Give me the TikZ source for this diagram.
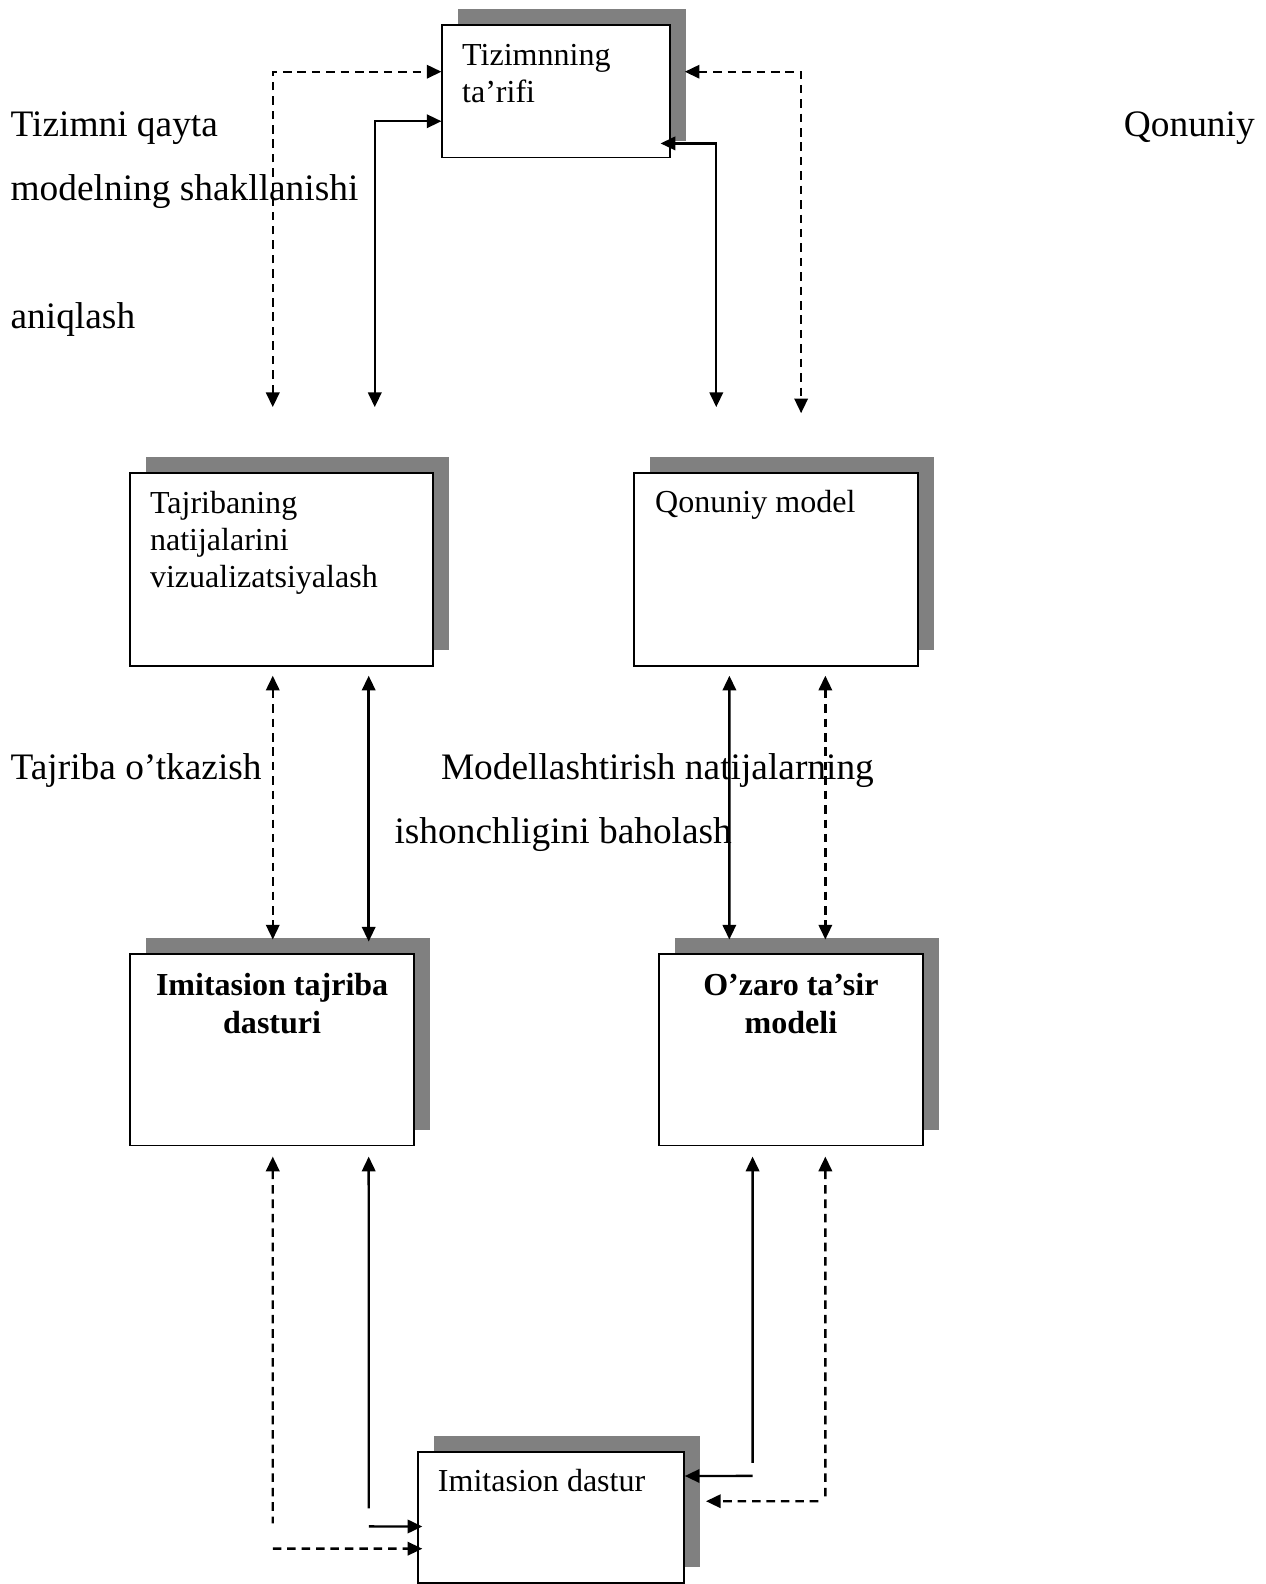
\documentclass[tikz,border=0pt]{standalone}
\usepackage{fontspec}
\setmainfont{Liberation Serif}
\usepackage{tikz}
\usetikzlibrary{arrows.meta,shadows}
\tikzset{
  modbox/.style={draw, fill=white, line width=0.7pt, anchor=north west, inner sep=0pt,
    general shadow={shadow xshift=6pt, shadow yshift=6pt, fill=black!50}},
  modtxt/.style={anchor=base west, align=left, inner sep=0pt, font=\fontsize{12}{14}\selectfont},
  modbold/.style={anchor=base, align=center, inner sep=0pt, font=\fontsize{12}{14}\selectfont\bfseries},
  modlbl/.style={anchor=base west, inner sep=0pt, font=\fontsize{14}{17}\selectfont},
  solidln/.style={line width=0.9pt},
  dashln/.style={line width=0.9pt, dash pattern=on 3.2pt off 2.2pt}
}

\begin{document}
\begin{tikzpicture}[>={Triangle[length=5.5pt,width=5pt]}]
\useasboundingbox (0,0) rectangle (16.665,-20.854);

% boxes
\node[modbox, minimum width=2.993cm, minimum height=1.742cm] (tarif) at (5.812,-0.319) {};
\node[modbox, minimum width=3.99cm, minimum height=2.54cm] (vizual) at (1.702,-6.211) {};
\node[modbox, minimum width=3.737cm, minimum height=2.54cm] (qonun) at (8.339,-6.211) {};
\node[modbox, minimum width=3.737cm, minimum height=2.527cm] (imitexp) at (1.702,-12.542) {};
\node[modbox, minimum width=3.485cm, minimum height=2.527cm] (ozaro) at (8.658,-12.542) {};
\node[modbox, minimum width=3.498cm, minimum height=1.729cm] (imitdast) at (5.493,-19.099) {};

% box texts (base = last line)
\node[modtxt] (tarif-t) at ([shift={(0.266,-1.03)}]tarif.north west) {Tizimnning\\ta’rifi};
\node[modtxt] (vizual-t) at ([shift={(0.266,-1.53)}]vizual.north west) {Tajribaning\\natijalarini\\vizualizatsiyalash};
\node[modtxt] (qonun-t) at ([shift={(0.28,-0.54)}]qonun.north west) {Qonuniy model};
\node[modbold] (imitexp-t) at ([yshift=-1.06cm]imitexp.north) {Imitasion tajriba\\dasturi};
\node[modbold] (ozaro-t) at ([yshift=-1.06cm]ozaro.north) {O’zaro ta’sir\\modeli};
\node[modtxt] (imitdast-t) at ([shift={(0.266,-0.54)}]imitdast.north west) {Imitasion dastur};

% free texts
\node[modlbl] (l1) at (0.133,-1.796) {Tizimni qayta};
\node[modlbl] (l2) at (14.79,-1.796) {Qonuniy};
\node[modlbl] (l3) at (0.133,-2.633) {modelning shakllanishi};
\node[modlbl] (l4) at (0.133,-4.323) {aniqlash};
\node[modlbl] (l5) at (0.133,-10.268) {Tajriba o’tkazish};
\node[modlbl] (l6) at (5.799,-10.268) {Modellashtirish natijalarning};
\node[modlbl] (l7) at (5.187,-11.106) {ishonchligini baholash};

% free ends
\coordinate (aL) at (3.591,-5.360);
\coordinate (aM) at (4.934,-5.360);
\coordinate (aN) at (9.430,-5.360);
\coordinate (aR) at (10.547,-5.440);
\coordinate (bL) at (3.591,-20.056);
\coordinate (bLh) at (3.591,-20.389);
\coordinate (bM) at (4.855,-19.857);
\coordinate (bMh) at (4.855,-20.096);
\coordinate (bN) at (9.909,-19.258);
\coordinate (bNh) at (9.909,-19.431);
\coordinate (bR) at (10.866,-19.737);
\coordinate (bRh) at (10.773,-19.764);

% top links
\draw[dashln,<->] (aL) |- ([yshift=-0.625cm]tarif.north west);
\draw[solidln,<->] (aM) |- ([yshift=-1.277cm]tarif.north west);
\draw[solidln,<->] ([shift={(-0.133,-1.569)}]tarif.north east) -| (aN);
\draw[dashln,<->] ([shift={(0.186,-0.625)}]tarif.north east) -| (aR);

% middle links
\draw[dashln,<->] ([shift={(1.889,-0.12)}]vizual.south west) -- ([shift={(1.889,0.173)}]imitexp.north west);
\draw[solidln,<->] ([shift={(3.152,-0.12)}]vizual.south west) -- ([shift={(3.152,0.146)}]imitexp.north west);
\draw[solidln,<->] ([shift={(1.264,-0.12)}]qonun.south west) -- ([shift={(0.944,0.173)}]ozaro.north west);
\draw[dashln,<->] ([shift={(2.527,-0.12)}]qonun.south west) -- ([shift={(2.208,0.173)}]ozaro.north west);

% bottom links
\draw[dashln,<-] ([shift={(1.889,-0.133)}]imitexp.south west) -- (bL);
\draw[dashln,->] (bLh) -- ([shift={(0.067,-1.29)}]imitdast.north west);
\draw[solidln,<-] ([shift={(3.152,-0.133)}]imitexp.south west) -- (bM);
\draw[solidln,->] (bMh) -- ([shift={(0.067,-0.998)}]imitdast.north west);
\draw[solidln,<-] ([shift={(1.25,-0.133)}]ozaro.south west) -- (bN);
\draw[solidln,->] (bNh) -- ([yshift=-0.333cm]imitdast.north east);
\draw[dashln,<-] ([shift={(2.208,-0.133)}]ozaro.south west) -- (bR);
\draw[dashln,->] (bRh) -- ([shift={(0.279,-0.665)}]imitdast.north east);
\end{tikzpicture}
\end{document}
